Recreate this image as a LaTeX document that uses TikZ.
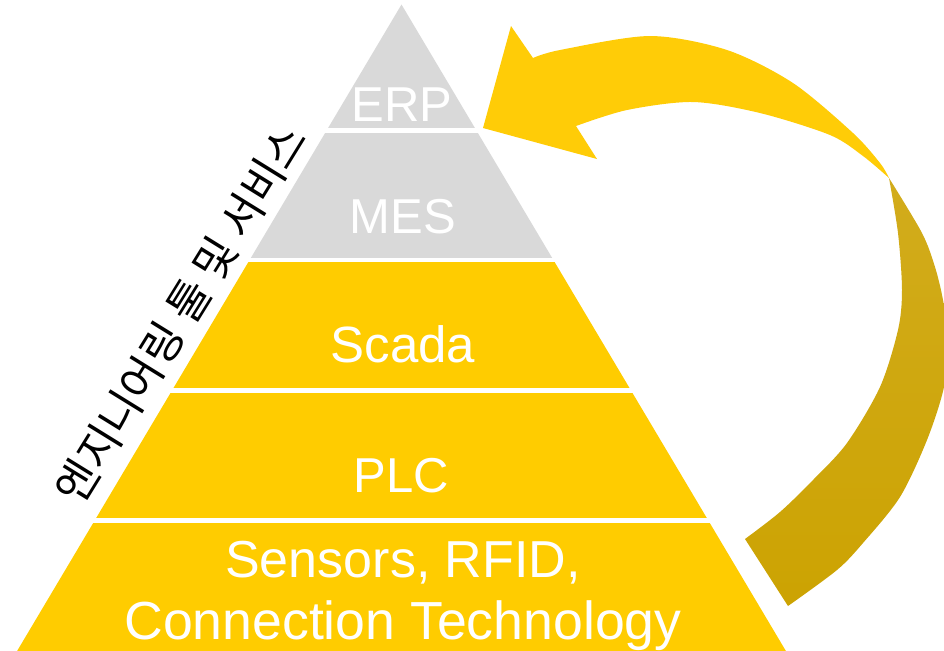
\documentclass[tikz,border=0pt]{standalone}
\usepackage{fontspec}
\setmainfont{Liberation Sans}
\newfontfamily\krfont{Noto Sans CJK KR}
\definecolor{laygray}{HTML}{D9D9D9}
\definecolor{layyellow}{HTML}{FFCC00}
\definecolor{arrowlight}{HTML}{FFD62C}
\definecolor{arrowbase}{HTML}{FFCC07}
\definecolor{golddark}{HTML}{CCA302}
\definecolor{goldlight}{HTML}{D2AC1C}
\begin{document}
\begin{tikzpicture}[x=0.5pt,y=-0.5pt,
  lbl/.style={text=white, anchor=base, inner sep=0pt, font=\fontsize{24.5}{29}\selectfont},
  lblbig/.style={lbl, font=\fontsize{26}{31}\selectfont},
  sidelbl/.style={text=black, inner sep=0pt, font=\krfont\fontsize{22}{26}\selectfont},
]
\useasboundingbox (0,0) rectangle (944,650);
\clip (0,0) rectangle (944,650);
% pyramid layers
\begin{scope}
  \clip (401.5,4.5) -- (16.5,652) -- (786.5,652) -- cycle;
  \fill[laygray]   (0,0)     rectangle (944,128.3);
  \fill[laygray]   (0,132.5) rectangle (944,258);
  \fill[layyellow] (0,262.3) rectangle (944,387.5);
  \fill[layyellow] (0,392.5) rectangle (944,517.7);
  \fill[layyellow] (0,522.5) rectangle (944,660);
\end{scope}
% labels
\node[lbl] (erp) at (402,121) {ERP};
\node[lbl] (mes) at (403,233) {MES};
\node[lbl, font=\fontsize{25.5}{30}\selectfont] (scada) at (403,362.5) {Scada};
\node[lbl] (plc) at (401,492.5) {PLC};
\node[lblbig] (sens) at (403,577) {Sensors, RFID,};
\node[lblbig, font=\fontsize{26.8}{31}\selectfont] (conn) at (403,639) {Connection Technology};
% side label
\node[sidelbl, rotate=58.3] (eng) at (181,314) {엔지니어링 툴 및 서비스};
% curved arrow: upper (light) part
\shade[left color=arrowbase, middle color=arrowlight, right color=arrowbase]
  (483,128) -- (511,26) -- (533,58)
  -- plot[smooth] coordinates {(533,58) (560,50) (650,36) (727,50) (793,83) (853,133) (880,163) (889,178)}
  -- plot[smooth] coordinates {(889,178) (863,156) (830,135) (760,113) (693,102) (627,110) (576,126)}
  -- (597,159) -- cycle;
% lower (dark gold) part
\shade[top color=goldlight, bottom color=golddark]
  plot[smooth] coordinates {(889,178) (922,233) (935,267) (943,300) (948,340) (944,387) (927,440) (900,497) (863,543) (837,570) (788,606)}
  -- (745,539)
  -- plot[smooth] coordinates {(745,539) (780,512) (813,480) (847,443) (880,387) (898,330) (902,290) (898,233) (889,178)}
  -- cycle;
\end{tikzpicture}
\end{document}
